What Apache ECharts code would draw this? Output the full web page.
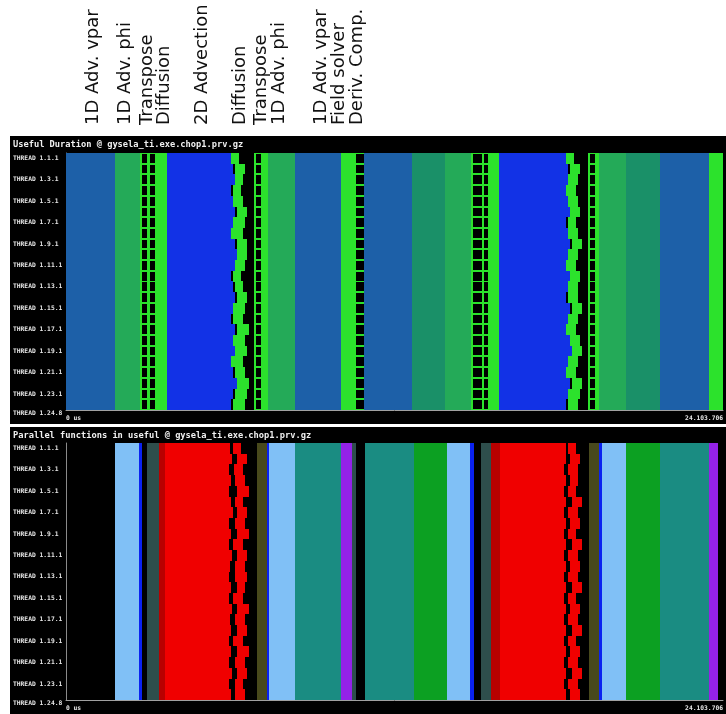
<!DOCTYPE html>
<html><head><meta charset="utf-8">
<script src="https://cdn.jsdelivr.net/npm/echarts@6/dist/echarts.min.js"></script>
<style>html,body{margin:0;padding:0;background:#fff;}#c{width:726px;height:714px;}</style>
</head><body><div id="c"></div>
<script>
// ---------------- data ----------------
const phaseLabels = ['1D Adv. vpar','1D Adv. phi','Transpose','Diffusion','2D Advection','Diffusion','Transpose','1D Adv. phi','1D Adv. vpar','Field solver','Deriv. Comp.'];
const phaseTimes = [0.99, 2.19, 2.99, 3.62, 5.00, 6.39, 7.16, 7.82, 9.35, 10.04, 10.70]; // ms
const threadNames = ['THREAD 1.1.1','THREAD 1.2.1','THREAD 1.3.1','THREAD 1.4.1','THREAD 1.5.1','THREAD 1.6.1','THREAD 1.7.1','THREAD 1.8.1','THREAD 1.9.1','THREAD 1.10.1','THREAD 1.11.1','THREAD 1.12.1','THREAD 1.13.1','THREAD 1.14.1','THREAD 1.15.1','THREAD 1.16.1','THREAD 1.17.1','THREAD 1.18.1','THREAD 1.19.1','THREAD 1.20.1','THREAD 1.21.1','THREAD 1.22.1','THREAD 1.23.1','THREAD 1.24.8'];
const panelTitles = ['Useful Duration @ gysela_ti.exe.chop1.prv.gz','Parallel functions in useful @ gysela_ti.exe.chop1.prv.gz'];
const xStartLabel = '0 us';
const xEndLabel = '24.103.706';
const traceEnd = 24.103706; // ms

// Panel 1: useful duration, bands common to all threads [start, end, state]
const durationBands = [
 [0,1.79,'steel'],[1.79,2.70,'mgreen'],[2.70,2.78,'bgreen'],[2.78,2.99,'grid'],[2.99,3.07,'bgreen'],[3.07,3.25,'grid'],[3.25,3.69,'bgreen'],
 [3.69,6.06,'blue'],
 [6.90,6.98,'bgreen'],[6.98,7.16,'grid'],[7.16,7.41,'bgreen'],[7.41,8.40,'mgreen'],[8.40,10.08,'steel'],[10.08,10.63,'bgreen'],[10.63,10.92,'grid'],
 [10.92,12.71,'steel'],[12.71,13.91,'teal'],[13.91,14.86,'mgreen'],[14.86,14.94,'bgreen'],[14.94,15.27,'grid'],[15.27,15.34,'bgreen'],[15.34,15.48,'grid'],[15.48,15.89,'bgreen'],
 [15.89,18.33,'blue'],
 [19.14,19.21,'bgreen'],[19.21,19.39,'grid'],[19.39,19.54,'bgreen'],[19.54,20.56,'mgreen'],[20.56,21.80,'teal'],[21.80,23.59,'steel'],[23.59,24.10,'bgreen']
];
// per-thread ragged ends of the 2D advection phase [mainEnd, blockStart, blockEnd]
const durationJagLeft = [[6.06,6.06,6.35],[6.14,6.21,6.57],[6.21,6.21,6.50],[6.06,6.14,6.43],[6.14,6.14,6.50],[6.21,6.28,6.65],[6.14,6.14,6.57],[6.06,6.06,6.50],[6.21,6.28,6.65],[6.28,6.28,6.65],[6.21,6.21,6.57],[6.06,6.14,6.43],[6.14,6.21,6.50],[6.21,6.28,6.65],[6.14,6.14,6.57],[6.06,6.14,6.50],[6.21,6.28,6.72],[6.14,6.14,6.57],[6.21,6.21,6.65],[6.06,6.06,6.50],[6.14,6.21,6.57],[6.28,6.28,6.72],[6.14,6.21,6.65],[6.06,6.14,6.57]];
const durationJagRight = [[18.33,18.33,18.63],[18.41,18.48,18.84],[18.41,18.41,18.77],[18.33,18.33,18.70],[18.41,18.41,18.77],[18.48,18.48,18.84],[18.33,18.41,18.70],[18.41,18.41,18.77],[18.48,18.55,18.92],[18.41,18.41,18.77],[18.33,18.33,18.70],[18.48,18.48,18.84],[18.41,18.41,18.77],[18.33,18.41,18.77],[18.48,18.55,18.92],[18.41,18.41,18.77],[18.33,18.33,18.70],[18.48,18.48,18.84],[18.55,18.55,18.92],[18.41,18.41,18.77],[18.33,18.33,18.70],[18.48,18.55,18.92],[18.41,18.41,18.84],[18.33,18.41,18.77]];

// Panel 2: parallel functions
const functionBands = [
 [1.79,2.67,'lblue'],[2.67,2.78,'pblue'],[2.96,3.43,'noiseT'],[3.43,3.65,'dred'],[3.65,5.99,'red'],
 [7.01,7.38,'noiseY'],[7.38,7.45,'pblue'],[7.45,8.40,'lblue'],[8.40,10.08,'tealF'],[10.08,10.48,'purple'],[10.48,10.63,'noiseT'],
 [10.96,12.75,'tealF'],[12.75,13.99,'green'],[13.99,14.83,'lblue'],[14.83,14.97,'pblue'],[15.23,15.59,'noiseT'],[15.59,15.92,'dred'],[15.92,18.26,'red'],
 [19.17,19.57,'noiseY'],[19.57,19.68,'pblue'],[19.68,20.56,'lblue'],[20.56,21.80,'green'],[21.80,23.59,'tealF'],[23.59,23.92,'purple']
];
const functionJagLeft = [[6.03,6.14,6.43],[6.10,6.28,6.65],[5.99,6.17,6.50],[6.06,6.21,6.57],[5.99,6.28,6.72],[6.06,6.21,6.50],[6.14,6.28,6.65],[5.99,6.21,6.57],[6.06,6.28,6.72],[5.99,6.14,6.50],[6.10,6.28,6.65],[6.03,6.21,6.57],[5.99,6.21,6.65],[6.06,6.28,6.57],[5.99,6.14,6.50],[6.10,6.28,6.72],[6.03,6.21,6.57],[6.06,6.28,6.65],[5.99,6.14,6.50],[6.06,6.28,6.72],[5.99,6.21,6.57],[6.10,6.28,6.65],[5.99,6.21,6.50],[6.06,6.21,6.57]];
const functionJagRight = [[18.33,18.41,18.70],[18.33,18.48,18.84],[18.26,18.41,18.77],[18.33,18.48,18.77],[18.26,18.41,18.70],[18.33,18.55,18.92],[18.26,18.41,18.77],[18.33,18.48,18.84],[18.26,18.41,18.70],[18.33,18.55,18.92],[18.26,18.41,18.77],[18.33,18.48,18.84],[18.26,18.41,18.77],[18.33,18.55,18.92],[18.26,18.41,18.70],[18.33,18.48,18.84],[18.26,18.41,18.77],[18.33,18.55,18.92],[18.26,18.41,18.70],[18.33,18.48,18.84],[18.26,18.41,18.77],[18.33,18.55,18.92],[18.26,18.41,18.77],[18.33,18.48,18.84]];

// ---------------- styles ----------------
const palette = {
  steel:'#1d60a8', mgreen:'#24aa58', teal:'#1a9068', bgreen:'#2ce22c', blue:'#1232e6', grid:'#000000',
  lblue:'#80c0f6', pblue:'#0a22f0', red:'#f00000', dred:'#b80000', tealF:'#1a8c82', green:'#0ca022', purple:'#9422e8',
  noiseT:'#2e4e4c', noiseY:'#48491c'
};
const keyList = Object.keys(palette);

function build(bands, jags) {
  const items = [];
  for (let r = 0; r < threadNames.length; r++) {
    bands.forEach(b => items.push([r, b[0], b[1], keyList.indexOf(b[2])]));
    jags.forEach(j => {
      const row = j.rows[r];
      if (row[0] > j.from) items.push([r, j.from, row[0], keyList.indexOf(j.main)]);
      items.push([r, row[1], row[2], keyList.indexOf(j.block)]);
    });
  }
  return items;
}
const p1 = build(durationBands, [
  {from:6.06, main:'blue', block:'bgreen', rows:durationJagLeft},
  {from:18.33, main:'blue', block:'bgreen', rows:durationJagRight}]);
const p2 = build(functionBands, [
  {from:5.99, main:'red', block:'red', rows:functionJagLeft},
  {from:18.26, main:'red', block:'red', rows:functionJagRight}]);

function renderItem(params, api) {
  const row = api.value(0), s = api.value(1), e = api.value(2), k = api.value(3);
  const a = api.coord([s, row]), b = api.coord([e, row]);
  const h = api.size([0, 1])[1];
  const cs = params.coordSys;
  const x0 = Math.round(a[0]), x1 = Math.round(b[0]);
  const y0 = Math.round(a[1] - h / 2), y1 = Math.round(a[1] + h / 2);
  const shape = echarts.graphic.clipRectByRect(
    {x: x0, y: y0, width: x1 - x0, height: y1 - y0},
    {x: cs.x, y: cs.y, width: cs.width, height: cs.height});
  if (!shape) return;
  const key = keyList[k];
  if (key === 'grid') {
    return {type:'group', children:[
      {type:'rect', shape: shape, style:{fill: palette.bgreen}},
      {type:'rect', shape:{x: shape.x, y: shape.y + 1, width: shape.width, height: shape.height - 2}, style:{fill:'#000'}}
    ]};
  }
  return {type:'rect', shape: shape, style:{fill: palette[key]}};
}

const monoFont = 'DejaVu Sans Mono';
const tops = [153, 443];
const chart = echarts.init(document.getElementById('c'));
const option = {
  animation: false,
  backgroundColor: '#ffffff',
  grid: tops.map(t => ({left: 66, right: 0, top: t, height: 257})),
  xAxis: tops.map((t, i) => ({
    type: 'value', gridIndex: i, min: 0, max: traceEnd, interval: traceEnd,
    splitLine: {show: false}, axisTick: {show: false},
    axisLine: {show: true, lineStyle: {color: '#a0a0a0', width: 1}},
    axisLabel: {color: '#e8e8e8', fontFamily: monoFont, fontWeight: 'bold', fontSize: 6.3, margin: 5,
      showMinLabel: true, showMaxLabel: true, alignMinLabel: 'left', alignMaxLabel: 'right',
      formatter: v => (v === 0 ? xStartLabel : xEndLabel)}
  })),
  yAxis: tops.map((t, i) => ({
    type: 'category', gridIndex: i, data: threadNames, inverse: true,
    axisTick: {show: false}, splitLine: {show: false},
    axisLine: {show: true, lineStyle: {color: '#8a8a8a', width: 1}},
    axisLabel: {interval: 0, align: 'left', margin: 53, color: '#e8e8e8', fontFamily: monoFont, fontWeight: 'bold', fontSize: 6.3,
      formatter: (v, idx) => (idx === threadNames.length - 1 ? '{last|' + v + '}' : (idx % 2 === 0 ? v : '')),
      rich: {last: {padding: [18, 0, 0, 0], color: '#e8e8e8', fontFamily: monoFont, fontWeight: 'bold', fontSize: 6.3}}}
  })),
  series: [p1, p2].map((d, i) => ({
    type: 'custom', xAxisIndex: i, yAxisIndex: i, renderItem: renderItem,
    encode: {x: [1, 2], y: 0}, data: d, progressive: 0, clip: true
  }))
};
chart.setOption(option);

const elements = [
  {type:'rect', z:-10, shape:{x:10, y:136, width:716, height:288}, style:{fill:'#000'}},
  {type:'rect', z:-10, shape:{x:10, y:427, width:716, height:287}, style:{fill:'#000'}},
  {type:'text', z:10, x:13, y:145, style:{text: panelTitles[0], fill:'#f0f0f0', font:'bold 8.7px "DejaVu Sans Mono"', textAlign:'left', textVerticalAlign:'middle'}},
  {type:'text', z:10, x:13, y:436, style:{text: panelTitles[1], fill:'#f0f0f0', font:'bold 8.7px "DejaVu Sans Mono"', textAlign:'left', textVerticalAlign:'middle'}}
];
phaseLabels.forEach((lab, i) => {
  const px = chart.convertToPixel({xAxisIndex: 0}, phaseTimes[i]);
  elements.push({type:'text', z:10, x: px, y: 125, rotation: Math.PI / 2,
    style:{text: lab, fill:'#111', font:'18px "DejaVu Sans"', textAlign:'left', textVerticalAlign:'middle'}});
});
chart.setOption({graphic: {elements: elements}});
</script></body></html>
